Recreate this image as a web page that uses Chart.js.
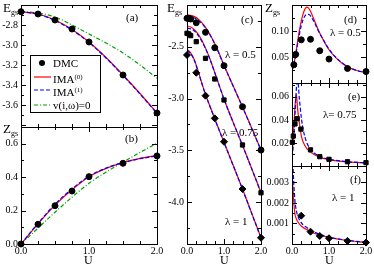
<!DOCTYPE html>
<html>
<head>
<meta charset="utf-8">
<script src="https://cdn.jsdelivr.net/npm/chart.js@4.4.1/dist/chart.umd.min.js"></script>
<style>
body { margin: 0; background: #fff; width: 374px; height: 267px; position: relative; overflow: hidden; font-family: "Liberation Serif", serif; }
canvas { position: absolute; }
.t { position: absolute; white-space: nowrap; color: #000; line-height: 1; font-size: 11px; z-index: 2; }
.t sub { font-size: 8px; vertical-align: -3px; }
.big { font-size: 13px; }
.u { font-size: 12px; }
#legend { position: absolute; left: 30px; top: 55px; width: 69px; height: 56px; border: 1px solid #000; background: #fff; z-index: 2; }
#legend .row { position: absolute; left: 0; height: 12px; width: 69px; }
#legend svg { position: absolute; left: 3px; top: 0; }
#legend span { position: absolute; left: 22px; top: 0; font-size: 11px; line-height: 12px; white-space: nowrap; }
#legend sup { font-size: 7px; vertical-align: 4px; }
</style>
</head>
<body>
<script>
// (a) ground-state energy vs U
const uA = [0, 0.25, 0.5, 0.75, 1.0, 1.25, 1.5, 1.75, 2.0];
const dmcUA = [0, 0.25, 0.5, 0.75, 1.0, 1.5, 2.0];
const dmcEA = [-2.667, -2.69, -2.75, -2.84, -2.97, -3.30, -3.68];
const ima0EA = [-2.667, -2.69, -2.75, -2.845, -2.97, -3.125, -3.30, -3.485, -3.68];
const ima1EA = [-2.667, -2.692, -2.755, -2.85, -2.975, -3.13, -3.305, -3.49, -3.685];
const v0EA = [-2.667, -2.68, -2.72, -2.80, -2.89, -2.98, -3.08, -3.20, -3.333];

// (b) Z vs U
const dmcZB = [0, 0.118, 0.229, 0.317, 0.403, 0.483, 0.527];
const ima0ZB = [0, 0.12, 0.233, 0.325, 0.403, 0.452, 0.487, 0.512, 0.53];
const ima1ZB = [0, 0.124, 0.238, 0.33, 0.405, 0.454, 0.487, 0.51, 0.527];
const v0ZB = [0, 0.095, 0.19, 0.28, 0.363, 0.43, 0.49, 0.548, 0.603];

// (c) energies for lambda = 0.5, 0.75, 1
const uC = [0, 0.1, 0.2, 0.3, 0.4, 0.5, 0.6, 0.8, 1.0, 1.25, 1.5, 1.75, 2.0];
const dmcUC = [0, 0.05, 0.1, 0.25, 0.5, 0.75, 1.0, 1.5, 2.0];
const dmcEC05 = [-2.228, -2.228, -2.235, -2.27, -2.363, -2.511, -2.684, -3.079, -3.496];
const dmcEC075 = [-2.372, -2.379, -2.395, -2.453, -2.613, -2.812, -3.014, -3.447, -3.907];
const dmcUC1 = [0, 0.25, 0.5, 0.75, 1.0, 1.5, 2.0];
const dmcEC1 = [-2.581, -2.752, -2.973, -3.191, -3.416, -3.871, -4.34];
const ima0EC05 = [-2.196, -2.20, -2.212, -2.235, -2.27, -2.315, -2.37, -2.51, -2.68, -2.88, -3.08, -3.285, -3.495];
const ima1EC05 = [-2.213, -2.215, -2.225, -2.245, -2.278, -2.32, -2.374, -2.514, -2.683, -2.883, -3.083, -3.288, -3.497];
const ima0EC075 = [-2.302, -2.312, -2.338, -2.38, -2.44, -2.515, -2.60, -2.80, -3.005, -3.23, -3.45, -3.675, -3.905];
const ima1EC075 = [-2.324, -2.33, -2.35, -2.39, -2.448, -2.52, -2.603, -2.803, -3.007, -3.232, -3.452, -3.677, -3.907];
const ima0EC1 = [-2.524, -2.56, -2.63, -2.735, -2.85, -2.96, -3.055, -3.24, -3.42, -3.645, -3.87, -4.105, -4.34];
const ima1EC1 = [-2.535, -2.568, -2.635, -2.74, -2.855, -2.963, -3.057, -3.242, -3.422, -3.647, -3.872, -4.107, -4.342];

// (d) Z, lambda = 0.5
const uD = [0, 0.05, 0.1, 0.15, 0.2, 0.25, 0.3, 0.35, 0.4, 0.45, 0.5, 0.6, 0.7, 0.8, 1.0, 1.25, 1.5, 1.75, 2.0];
const dmcUD = [0.05, 0.1, 0.25, 0.5, 0.75, 1.0, 1.5, 2.0];
const dmcZD = [0.035, 0.055, 0.083, 0.084, 0.062, 0.046, 0.028, 0.022];
const ima0ZD = [0.024, 0.036, 0.056, 0.079, 0.101, 0.119, 0.133, 0.142, 0.146, 0.144, 0.138, 0.121, 0.104, 0.089, 0.064, 0.044, 0.031, 0.024, 0.020];
const ima1ZD = [0.024, 0.035, 0.053, 0.074, 0.094, 0.110, 0.122, 0.129, 0.132, 0.132, 0.129, 0.117, 0.102, 0.089, 0.065, 0.045, 0.032, 0.024, 0.020];

// (e) Z, lambda = 0.75
const uE = [0, 0.03, 0.06, 0.09, 0.12, 0.15, 0.2, 0.26, 0.35, 0.5, 0.75, 1.0, 1.5, 2.0];
const dmcUE = [0.01, 0.035, 0.08, 0.14, 0.24, 0.5, 0.75, 1.0, 1.5, 2.0];
const dmcZE = [0.0206, 0.026, 0.0365, 0.041, 0.032, 0.014, 0.0081, 0.0058, 0.0037, 0.0029];
const ima0ZE = [0.010, 0.022, 0.040, 0.056, 0.062, 0.050, 0.037, 0.025, 0.0176, 0.012, 0.0075, 0.0055, 0.0035, 0.0027];
const ima1ZE = [0.008, 0.016, 0.030, 0.050, 0.068, 0.076, 0.058, 0.040, 0.025, 0.0145, 0.0085, 0.006, 0.0037, 0.0028];

// (f) Z, lambda = 1
const uF = [0, 0.02, 0.05, 0.08, 0.12, 0.17, 0.22, 0.3, 0.4, 0.5, 0.75, 1.0, 1.5, 2.0];
const dmcUF = [0.25, 0.5, 0.75, 1.0, 1.5, 2.0];
const dmcZF = [0.00138, 0.0006, 0.00039, 0.00028, 0.00015, 0.00007];
const ima0ZF = [0.0036, 0.0029, 0.0020, 0.00146, 0.00122, 0.00105, 0.00093, 0.0008, 0.0007, 0.0006, 0.00043, 0.00032, 0.00017, 0.00008];
const ima1ZF = [0.0060, 0.0042, 0.0029, 0.0021, 0.0016, 0.0013, 0.00112, 0.00093, 0.0008, 0.00068, 0.00047, 0.00034, 0.00018, 0.00008];

// tick labels
const xTicks = [0, 1, 2];
const yTicksA = [-2.8, -3.0, -3.2, -3.4, -3.6];
const yTicksB = [0, 0.2, 0.4, 0.6];
const yTicksC = [-2.5, -3.0, -3.5, -4.0];
const yTicksD = [0.05, 0.10];
const yTicksE = [0.02, 0.04, 0.06];
const yTicksF = [0.001, 0.002, 0.003];

const RED = '#ff0000', BLUE = '#0000ff', GREEN = '#00a000';
const FONT = 'Liberation Serif';

// inward ticks on all four sides plus the frame
const framePlugin = {
    id: 'frame',
    afterDraw(chart, args, o) {
        const { ctx, chartArea: a, scales: { x, y } } = chart;
        ctx.save();
        ctx.strokeStyle = '#000';
        ctx.lineWidth = 1;
        ctx.strokeRect(a.left + 0.5, a.top + 0.5, a.right - a.left, a.bottom - a.top);
        ctx.beginPath();
        const each = (min, max, minor, major, fn) => {
            for (let n = Math.ceil(min / minor - 1e-6); n * minor <= max + 1e-9; n++) {
                const v = n * minor;
                const big = Math.abs(v / major - Math.round(v / major)) < 1e-6;
                fn(v, big ? 5 : 3);
            }
        };
        each(x.min, x.max, o.xMinor, o.xMajor, (v, len) => {
            const p = Math.round(x.getPixelForValue(v)) + 0.5;
            ctx.moveTo(p, a.bottom); ctx.lineTo(p, a.bottom - len);
            ctx.moveTo(p, a.top); ctx.lineTo(p, a.top + len);
        });
        each(y.min, y.max, o.yMinor, o.yMajor, (v, len) => {
            const p = Math.round(y.getPixelForValue(v)) + 0.5;
            ctx.moveTo(a.left, p); ctx.lineTo(a.left + len, p);
            ctx.moveTo(a.right, p); ctx.lineTo(a.right - len, p);
        });
        ctx.stroke();
        ctx.restore();
    }
};

const pts = (xs, ys) => xs.map((v, i) => ({ x: v, y: ys[i] }));

function curve(xs, ys, color, dash) {
    return {
        data: pts(xs, ys), showLine: true, pointRadius: 0, borderColor: color,
        borderWidth: 1.2, borderDash: dash || [], cubicInterpolationMode: 'monotone', fill: false
    };
}

function marks(xs, ys, style, r) {
    return {
        data: pts(xs, ys), showLine: false, pointStyle: style, pointRadius: r,
        backgroundColor: '#000', borderColor: '#000', borderWidth: 1, clip: false
    };
}

function axis(min, max, ticks, fmt, show, size, isX) {
    return {
        type: 'linear', min: min, max: max,
        grid: { display: false, drawTicks: false },
        border: { display: false },
        afterBuildTicks: s => { s.ticks = ticks.map(v => ({ value: v })); },
        afterFit: s => { if (isX) s.height = size; else s.width = size; },
        ticks: {
            display: show, autoSkip: false, maxRotation: 0, padding: isX ? 1 : 3,
            color: '#000', font: { family: FONT, size: 10 }, callback: fmt
        }
    };
}

// area = plot frame in page pixels
function panel(area, xr, yr, yTicks, yFmt, showX, ticks, datasets) {
    const L = 36, T = 10, R = 12, B = 22;
    const cv = document.createElement('canvas');
    cv.width = area.w + L + R;
    cv.height = area.h + T + B;
    cv.style.left = (area.x - L) + 'px';
    cv.style.top = (area.y - T) + 'px';
    document.body.appendChild(cv);
    return new Chart(cv, {
        type: 'scatter',
        data: { datasets: datasets },
        options: {
            responsive: false, animation: false, devicePixelRatio: 1, events: [],
            layout: { padding: { top: T, right: R, left: 0, bottom: 0 } },
            plugins: { legend: { display: false }, tooltip: { enabled: false }, frame: ticks },
            scales: {
                x: axis(xr[0], xr[1], xTicks, v => v.toFixed(1), showX, B, true),
                y: axis(yr[0], yr[1], yTicks, yFmt, true, L, false)
            }
        },
        plugins: [framePlugin]
    });
}

const dash = [4, 2];
const dashDot = [4, 2, 1, 2];

panel({ x: 21, y: 5, w: 136, h: 122 }, [0, 2], [-3.82, -2.6], yTicksA, v => v.toFixed(1), false,
    { xMinor: 0.25, xMajor: 1, yMinor: 0.1, yMajor: 0.2 }, [
        marks(dmcUA, dmcEA, 'circle', 3),
        curve(uA, ima1EA, BLUE, dash),
        curve(uA, ima0EA, RED),
        curve(uA, v0EA, GREEN, dashDot)
    ]);

panel({ x: 21, y: 127, w: 136, h: 117 }, [0, 2], [0, 0.7], yTicksB, v => v.toFixed(1), true,
    { xMinor: 0.25, xMajor: 1, yMinor: 0.1, yMajor: 0.2 }, [
        marks(dmcUA, dmcZB, 'circle', 3),
        curve(uA, ima1ZB, BLUE, dash),
        curve(uA, ima0ZB, RED),
        curve(uA, v0ZB, GREEN, dashDot)
    ]);

panel({ x: 187, y: 5, w: 74, h: 239 }, [0, 2], [-4.4, -2.1], yTicksC, v => v.toFixed(1), true,
    { xMinor: 0.25, xMajor: 1, yMinor: 0.25, yMajor: 0.5 }, [
        marks(dmcUC, dmcEC05, 'circle', 3),
        marks(dmcUC, dmcEC075, 'rect', 3),
        marks(dmcUC1, dmcEC1, 'rectRot', 3.5),
        curve(uC, ima1EC05, BLUE, dash),
        curve(uC, ima0EC05, RED),
        curve(uC, ima1EC075, BLUE, dash),
        curve(uC, ima0EC075, RED),
        curve(uC, ima1EC1, BLUE, dash),
        curve(uC, ima0EC1, RED)
    ]);

panel({ x: 292, y: 5, w: 74, h: 78 }, [0, 2], [0, 0.15], yTicksD, v => v.toFixed(2), false,
    { xMinor: 0.25, xMajor: 1, yMinor: 0.025, yMajor: 0.05 }, [
        marks(dmcUD, dmcZD, 'circle', 3),
        curve(uD, ima1ZD, BLUE, dash),
        curve(uD, ima0ZD, RED)
    ]);

panel({ x: 292, y: 83, w: 74, h: 83 }, [0, 2], [0, 0.072], yTicksE, v => v.toFixed(2), false,
    { xMinor: 0.25, xMajor: 1, yMinor: 0.01, yMajor: 0.02 }, [
        marks(dmcUE, dmcZE, 'rect', 3),
        curve(uE, ima1ZE, BLUE, dash),
        curve(uE, ima0ZE, RED)
    ]);

panel({ x: 292, y: 166, w: 74, h: 78 }, [0, 2], [0, 0.0038], yTicksF, v => v.toFixed(3), true,
    { xMinor: 0.25, xMajor: 1, yMinor: 0.0005, yMajor: 0.001 }, [
        marks(dmcUF, dmcZF, 'rectRot', 3.5),
        curve(uF, ima1ZF, BLUE, dash),
        curve(uF, ima0ZF, RED)
    ]);

// text labels
const labels = [
    [3, 1, 'E<sub>gs</sub>', 'big'], [3, 122, 'Z<sub>gs</sub>', 'big'],
    [167, 1, 'E<sub>gs</sub>', 'big'], [265, 1, 'Z<sub>gs</sub>', 'big'],
    [126, 12, '(a)'], [125, 133, '(b)'], [241, 14, '(c)'],
    [344, 14, '(d)'], [348, 91, '(e)'], [350, 174, '(f)'],
    [225, 49, 'λ = 0.5'], [222, 127, 'λ = 0.75'], [225, 216, 'λ = 1'],
    [330, 27, 'λ = 0.5'], [323, 109, 'λ= 0.75'], [332, 192, 'λ = 1'],
    [84, 254, 'U', 'u'], [220, 254, 'U', 'u'], [325, 254, 'U', 'u']
];
labels.forEach(([x, y, html, cls]) => {
    const d = document.createElement('div');
    d.className = 't' + (cls ? ' ' + cls : '');
    d.style.left = x + 'px';
    d.style.top = y + 'px';
    d.innerHTML = html;
    document.body.appendChild(d);
});

// legend of panel (a)
const legend = document.createElement('div');
legend.id = 'legend';
legend.innerHTML =
    '<div class="row" style="top:1px"><svg width="18" height="12"><circle cx="8" cy="6" r="3" fill="#000"/></svg><span>DMC</span></div>' +
    '<div class="row" style="top:15px"><svg width="18" height="12"><line x1="0" y1="6" x2="17" y2="6" stroke="' + RED + '" stroke-width="1.2"/></svg><span>IMA<sup>(0)</sup></span></div>' +
    '<div class="row" style="top:28px"><svg width="18" height="12"><line x1="0" y1="6" x2="17" y2="6" stroke="' + BLUE + '" stroke-width="1.2" stroke-dasharray="4,2"/></svg><span>IMA<sup>(1)</sup></span></div>' +
    '<div class="row" style="top:43px"><svg width="18" height="12"><line x1="0" y1="6" x2="17" y2="6" stroke="' + GREEN + '" stroke-width="1.2" stroke-dasharray="4,2,1,2"/></svg><span>v(i,ω)=0</span></div>';
document.body.appendChild(legend);
</script>
</body>
</html>
